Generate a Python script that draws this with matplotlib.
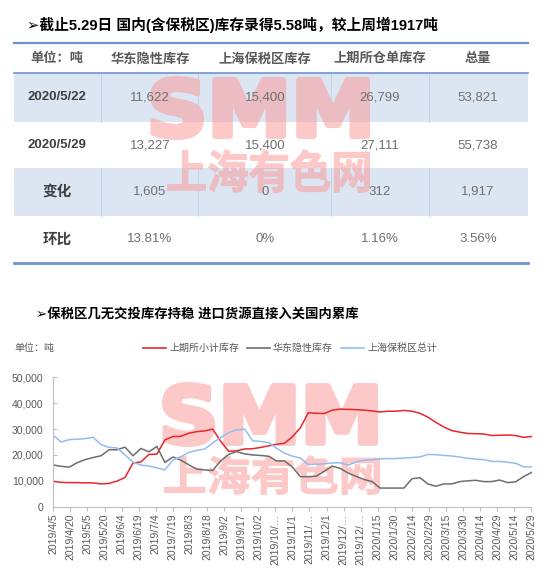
import numpy as np
import pandas as pd
import matplotlib
matplotlib.use('Agg')
import matplotlib.pyplot as plt
import matplotlib.patches as patches
from matplotlib.textpath import TextPath
from matplotlib.font_manager import FontProperties
from matplotlib.transforms import Affine2D

plt.rcParams['font.family'] = ['Liberation Sans', 'Noto Sans CJK SC', 'DejaVu Sans']

# ---- table data ----
col_names = ['单位：吨', '华东隐性库存', '上海保税区库存', '上期所仓单库存', '总量']
dates_tbl = ['2020/5/22', '2020/5/29']
prev_week = [11622, 15400, 26799]
this_week = [13227, 15400, 27111]

# ---- chart data (weekly, tons) ----
start_date = '2019-04-05'
shfe = [9800, 9400, 9300, 9300, 9200, 9200, 8800, 9000, 9900, 11300,
        16900, 17300, 20200, 20300, 25800, 27100, 27200, 28400, 29000, 29300,
        30000, 25300, 21400, 21600, 22300, 22400, 22900, 23500, 24100, 24500,
        27000, 30500, 36300, 36100, 36000, 37300, 37700, 37600, 37500, 37300,
        37000, 36600, 36900, 36900, 37200, 36900, 36100, 34600, 32600, 30800,
        29400, 28800, 28300, 28200, 28100, 27500, 27600, 27700, 27500, 26799,
        27111]
east_china = [16100, 15600, 15300, 17000, 18200, 19000, 19700, 22000, 22000, 23000,
              19700, 22500, 21200, 23300, 17100, 19200, 18000, 16200, 14500, 14200,
              14000, 17700, 20200, 21300, 20400, 20000, 19800, 19500, 17700, 17700,
              15300, 11600, 11600, 11800, 13700, 15700, 14800, 13000, 11700, 10500,
              9700, 7200, 7200, 7200, 7200, 10800, 11200, 8800, 7900, 8800,
              8800, 9700, 10000, 10200, 9700, 9700, 10300, 9300, 9600, 11622,
              13227]
bonded = [27500, 25000, 25900, 26100, 26300, 26800, 24000, 22900, 22700, 20000,
          17200, 16100, 15700, 15000, 14200, 18000, 19300, 21000, 21800, 22300,
          24600, 26700, 28600, 29700, 30000, 25500, 25200, 24800, 22600, 20700,
          19500, 18800, 16300, 16400, 16600, 16900, 17000, 16100, 17300, 17900,
          18200, 18500, 18600, 18600, 18800, 19000, 19200, 20200, 20100, 19800,
          19600, 19200, 18700, 18400, 18200, 17500, 17500, 17200, 16800, 15400,
          15400]
series_names = ['上期所小计库存', '华东隐性库存', '上海保税区总计']
series_colors = ['#e8262b', '#6e6e6e', '#93bdf0']
xtick_labels = ['2019/4/5', '2019/4/20', '2019/5/5', '2019/5/20', '2019/6/4', '2019/6/19',
                '2019/7/4', '2019/7/19', '2019/8/3', '2019/8/18', '2019/9/2', '2019/9/17',
                '2019/10/2', '2019/10/…', '2019/11/1', '2019/11/…', '2019/12/1', '2019/12/…',
                '2019/12/…', '2020/1/15', '2020/1/30', '2020/2/14', '2020/2/29', '2020/3/15',
                '2020/3/30', '2020/4/14', '2020/4/29', '2020/5/14', '2020/5/29']

W, H = 557, 581
fig = plt.figure(figsize=(W / 100, H / 100), dpi=100)
bg = fig.add_axes([0, 0, 1, 1], zorder=0)
bg.set_xlim(0, W)
bg.set_ylim(H, 0)
bg.axis('off')

# watermark pink, pre-blended over white and over the blue row colour
WM_ON_WHITE = '#fdc8c8'
WM_ON_BLUE = '#ebbcc2'


def watermark(text, x0, y0, x1, y1, family, lw, regions):
    grow = lw * 100 / 72 / 2  # half of stroke width in px
    tp = TextPath((0, 0), text, size=1, prop=FontProperties(family=family, weight='bold'))
    bb = tp.get_extents()
    tr = (Affine2D().translate(-bb.x0, -bb.y1)
          .scale((x1 - x0 - 2 * grow) / bb.width, -(y1 - y0 - 2 * grow) / bb.height)
          .translate(x0 + grow, y0 + grow))
    p = tr.transform_path(tp)
    for clip, col in regions:
        pp = patches.PathPatch(p, facecolor=col, edgecolor=col, lw=lw,
                               joinstyle='round', zorder=2)
        bg.add_patch(pp)
        if clip is not None:
            pp.set_clip_path(patches.Rectangle(clip[:2], clip[2], clip[3],
                                               transform=bg.transData))


# ---- top title ----
bg.text(27, 25, '➢截止5.29日 国内(含保税区)库存录得5.58吨，较上周增1917吨',
        fontsize=10.6, fontweight='bold', va='center', ha='left', color='black')

# ---- table ----
tx0, tx1 = 14, 528
col_x = [57, 150, 265, 380, 478]
col_div = [101, 198, 331, 429]
row_edges = [73, 122, 168, 216, 263]
head_y = 59
blue_bg = '#dce6f2'
for r in (0, 2):
    bg.add_patch(patches.Rectangle((tx0, row_edges[r]), tx1 - tx0,
                                   row_edges[r + 1] - row_edges[r],
                                   facecolor=blue_bg, edgecolor='none', zorder=1))
    for cx in col_div:
        bg.plot([cx, cx], [row_edges[r], row_edges[r + 1]], color='#c3d3e8', lw=0.7, zorder=1.5)
bg.plot([tx0, tx1], [43, 43], color='#6d95c9', lw=1.6, zorder=3)
bg.plot([tx0, tx1], [row_edges[0], row_edges[0]], color='#6d95c9', lw=1.2, zorder=3)
bg.plot([tx0, tx1], [row_edges[-1], row_edges[-1]], color='#6d95c9', lw=2.0, zorder=3)

for cx, name in zip(col_x, col_names):
    bg.text(cx, head_y, name, fontsize=9.5, fontweight='bold', color='#595959',
            ha='center', va='center', zorder=4)

prev_all = prev_week + [sum(prev_week)]
this_all = this_week + [sum(this_week)]
diff = [b - a for a, b in zip(prev_all, this_all)]
pct = ['0%' if d == 0 else '{:.2f}%'.format(d / a * 100) for a, d in zip(prev_all, diff)]
rows = [[dates_tbl[0]] + ['{:,}'.format(v) for v in prev_all],
        [dates_tbl[1]] + ['{:,}'.format(v) for v in this_all],
        ['变化'] + ['{:,}'.format(v) for v in diff],
        ['环比'] + pct]
for r, row in enumerate(rows):
    cy = (row_edges[r] + row_edges[r + 1]) / 2
    for c, val in enumerate(row):
        if c == 0:
            bg.text(col_x[c], cy, val, fontsize=9.5 if r < 2 else 10.5, fontweight='bold',
                    color='#404040', ha='center', va='center', zorder=4)
        else:
            bg.text(col_x[c], cy, val, fontsize=9.5, color='#6f6f6f',
                    ha='center', va='center', zorder=4)

tbl_regions = [((tx0, row_edges[0], tx1 - tx0, row_edges[1] - row_edges[0]), WM_ON_BLUE),
               ((tx0, row_edges[1], tx1 - tx0, row_edges[2] - row_edges[1]), WM_ON_WHITE),
               ((tx0, row_edges[2], tx1 - tx0, row_edges[3] - row_edges[2]), WM_ON_BLUE)]
watermark('SMM', 150, 76, 370, 140, 'DejaVu Sans', 4.0, tbl_regions)
watermark('上海有色网', 167, 149, 370, 193, 'Noto Sans CJK SC', 0.8, tbl_regions)

# ---- chart title / legend ----
bg.text(36, 315, '➢保税区几无交投库存持稳 进口货源直接入关国内累库',
        fontsize=9.6, fontweight='bold', va='center', ha='left', color='black')
bg.text(14, 348, '单位：吨', fontsize=7.2, color='#595959', va='center', ha='left')
leg_x = [143, 247, 341]
for lx, name, col in zip(leg_x, series_names, series_colors):
    bg.plot([lx, lx + 23], [348, 348], color=col, lw=1.2)
    bg.text(lx + 26, 348, name, fontsize=7.2, color='#595959', va='center', ha='left')

watermark('SMM', 162, 382, 378, 447, 'DejaVu Sans', 4.0, [(None, WM_ON_WHITE)])
watermark('上海有色网', 164, 455, 380, 495, 'Noto Sans CJK SC', 0.8, [(None, WM_ON_WHITE)])

# ---- line chart ----
ax_l, ax_r = 53.3, 531.5
ax_b, ax_t = 506.7, 377.3
ax = fig.add_axes([ax_l / W, (H - ax_b) / H, (ax_r - ax_l) / W, (ax_b - ax_t) / H], zorder=1)
ax.patch.set_alpha(0)

dates = pd.date_range(start_date, periods=len(shfe), freq='7D')
for vals, col in zip([shfe, east_china, bonded], series_colors):
    ax.plot(dates, vals, color=col, lw=1.1)

ax.set_ylim(0, 50000)
ax.set_xlim(dates[0], dates[-1])
ax.set_yticks(np.arange(0, 50001, 10000))
ax.set_yticklabels(['{:,}'.format(v) for v in range(0, 50001, 10000)])
ticks = pd.date_range(dates[0], dates[-1], freq='15D')
ax.set_xticks(ticks)
ax.set_xticklabels(xtick_labels, rotation=90)
for s in ('top', 'right'):
    ax.spines[s].set_visible(False)
for s in ('left', 'bottom'):
    ax.spines[s].set_color('#bfbfbf')
    ax.spines[s].set_linewidth(0.8)
ax.tick_params(axis='y', direction='in', length=3, color='#bfbfbf', labelsize=7.5,
               labelcolor='#595959', pad=7)
ax.tick_params(axis='x', direction='out', length=3, color='#bfbfbf', labelsize=7.5,
               labelcolor='#595959', pad=2)

fig.savefig('out.png', dpi=100)
